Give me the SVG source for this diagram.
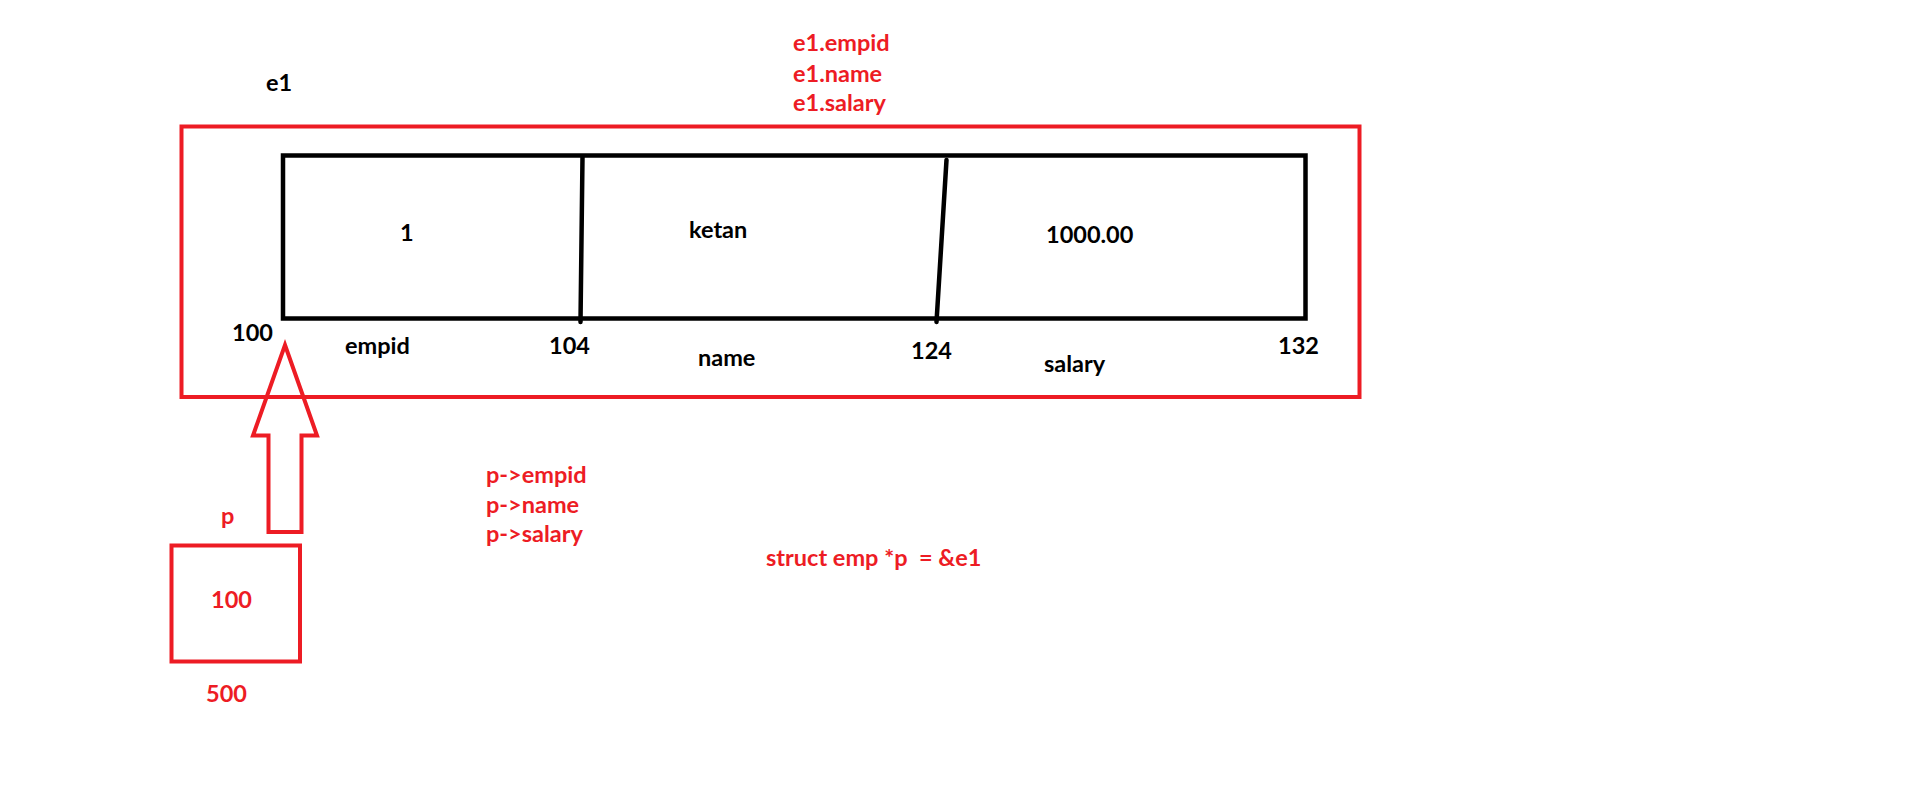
<svg xmlns="http://www.w3.org/2000/svg" width="1914" height="809" viewBox="0 0 1914 809">
<style>
text{font-family:Lato,"Liberation Sans",sans-serif;font-weight:700;font-size:23.5px;white-space:pre}
.k{fill:#000}
.r{fill:#ED1C24}
.rs{fill:none;stroke:#ED1C24;stroke-width:4}
.ks{fill:none;stroke:#000;stroke-width:4.5;stroke-linecap:round}
</style>
<rect width="1914" height="809" fill="#fff"/>
<g id="struct-e1">
<rect class="rs" x="181.5" y="126.5" width="1178" height="270.5"/>
<text class="k" x="266" y="91">e1</text>
</g>
<g id="memory-block">
<rect class="ks" x="283" y="155.5" width="1022.5" height="163"/>
</g>
<g id="field-empid">
<text class="k" x="400" y="241">1</text>
<text class="k" x="345" y="354">empid</text>
</g>
<g id="field-name">
<text class="k" x="689" y="238">ketan</text>
<text class="k" x="698" y="366">name</text>
</g>
<g id="field-salary">
<text class="k" x="1046" y="243">1000.00</text>
<text class="k" x="1044" y="372">salary</text>
</g>
<g id="addresses">
<text class="k" x="232" y="341">100</text>
<text class="k" x="549" y="354">104</text>
<text class="k" x="911" y="359">124</text>
<text class="k" x="1278" y="354">132</text>
</g>
<g id="dot-access">
<text class="r" x="793" y="51">e1.empid</text>
<text class="r" x="793" y="81.5">e1.name</text>
<text class="r" x="793" y="111">e1.salary</text>
</g>
<g id="pointer-p">
<rect class="rs" x="171.5" y="545.5" width="128.5" height="116"/>
<text class="r" x="221" y="524">p</text>
<text class="r" x="211" y="608">100</text>
<text class="r" x="206" y="702">500</text>
</g>
<g id="arrow-access">
<text class="r" x="486" y="483">p-&gt;empid</text>
<text class="r" x="486" y="513">p-&gt;name</text>
<text class="r" x="486" y="542">p-&gt;salary</text>
</g>
<g id="declaration">
<text class="r" x="766" y="566">struct emp *p  = &amp;e1</text>
</g>
<g id="connectors">
<line class="ks" x1="582.5" y1="157" x2="580.5" y2="322"/>
<line class="ks" x1="946.5" y1="160" x2="936.5" y2="322"/>
<polygon class="rs" stroke-linejoin="miter" points="285,345 317,435.5 301.5,435.5 301.5,532 268.5,532 268.5,435.5 253,435.5"/>
</g>
</svg>
